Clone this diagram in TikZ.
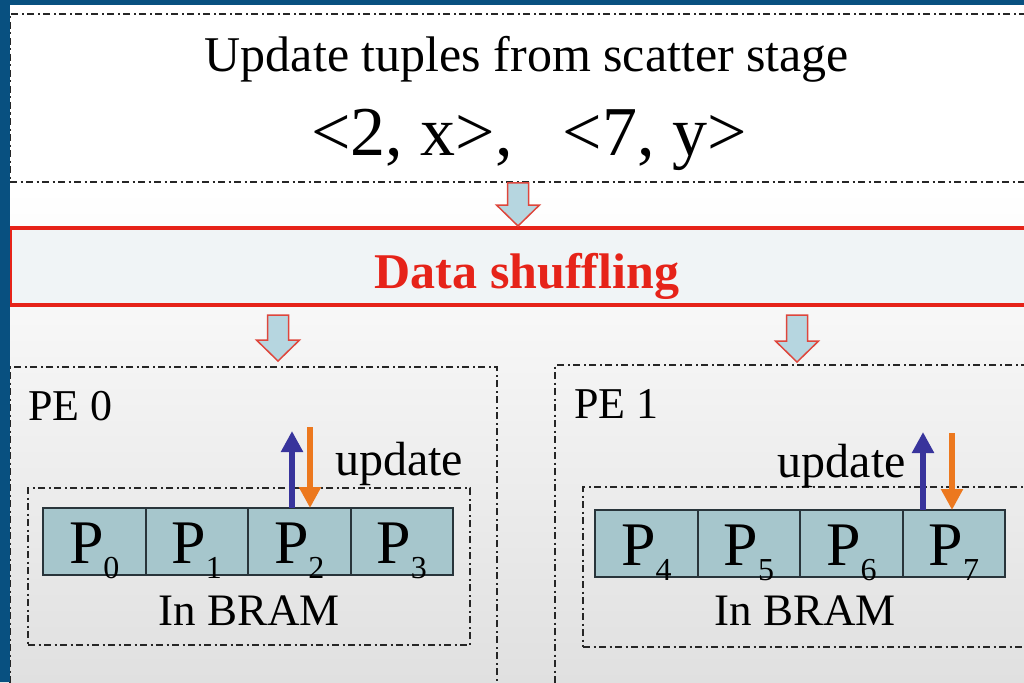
\documentclass[tikz,border=0pt]{standalone}
\usepackage{fontspec}
\setmainfont{Liberation Serif}
\usetikzlibrary{calc}
\usetikzlibrary{arrows.meta}
\usetikzlibrary{positioning}

\definecolor{slideblue}{RGB}{8,80,128}
\definecolor{bggray}{RGB}{224,224,224}
\definecolor{shufred}{RGB}{230,35,25}
\definecolor{bandfill}{RGB}{240,244,246}
\definecolor{cellfill}{RGB}{166,198,204}
\definecolor{celledge}{RGB}{40,52,58}
\definecolor{blockfill}{RGB}{182,214,224}
\definecolor{blockedge}{RGB}{222,70,60}
\definecolor{upblue}{RGB}{56,52,156}
\definecolor{downorange}{RGB}{236,120,30}

% block arrow pointing down, from #1 to #2
\newcommand{\blockdown}[2]{%
	\draw [blockarrow] let \p1=(#1), \p2=(#2) in
		(\x1-10.5pt,\y1) -- (\x1+10.5pt,\y1) -- (\x1+10.5pt,\y2+21pt)
		-- (\x1+21.5pt,\y2+21pt) -- (\x1,\y2) -- (\x1-21.5pt,\y2+21pt)
		-- (\x1-10.5pt,\y2+21pt) -- cycle;}

\newcommand{\pname}[1]{P\raisebox{-15pt}{\fontsize{32}{32}\selectfont #1}}

\begin{document}
\begin{tikzpicture}[x=1pt, y=-1pt,
	stagebox/.style={draw=black!85, line width=1.9pt, dash pattern=on 7pt off 3.5pt on 2pt off 3.5pt, inner sep=0pt},
	cell/.style={draw=celledge, line width=2pt, fill=cellfill, minimum width=102.5pt, minimum height=67pt,
		inner sep=0pt, outer sep=0pt, text height=43pt, text depth=0pt, font=\fontsize{62}{62}\selectfont},
	blockarrow/.style={fill=blockfill, draw=blockedge, line width=1.5pt, line join=miter},
	uparrow/.style={draw=upblue, line width=6.5pt, -{Triangle[width=21pt,length=21pt]}},
	downarrow/.style={draw=downorange, line width=6.5pt, -{Triangle[width=21pt,length=21pt]}}]

	\useasboundingbox (0,0) rectangle (1024,682);
	\clip (0,0) rectangle (1024,682);

	\fill [white] (0,0) rectangle (1024,190);
	\shade [top color=white, bottom color=bggray] (0,190) rectangle (1024,682);

	% scatter stage
	\node (Scatter) [stagebox, minimum width=1024pt, minimum height=168pt] at (522,98) {};
	\node (Title) [anchor=base, font=\fontsize{50}{60}\selectfont] at (527,72) {Update tuples from scatter stage};
	\node (Tuples) [anchor=base, font=\fontsize{70}{80}\selectfont] at (529,155) {<2, x>,\hspace{50pt}<7, y>};

	% shuffling
	\node (Shuffle) [draw=shufred, line width=4pt, fill=bandfill, minimum width=1024pt, minimum height=77pt, inner sep=0pt] at (522,266.5) {};
	\node (ShuffleLabel) [anchor=base, text=shufred, font=\fontsize{50}{60}\selectfont\bfseries] at (527,288) {Data shuffling};

	% PEs
	\node (PE0) [stagebox, minimum width=487pt, minimum height=333pt] at (253.5,533.5) {};
	\node (PE1) [stagebox, minimum width=485pt, minimum height=335pt] at (797.5,532.5) {};
	\node (PE0Label) [anchor=base west, inner sep=0pt, font=\fontsize{44}{50}\selectfont] at (28,420) {PE 0};
	\node (PE1Label) [anchor=base west, inner sep=0pt, font=\fontsize{44}{50}\selectfont] at (574,418) {PE 1};

	\node (Bram0) [stagebox, minimum width=442pt, minimum height=157pt] at (249,566.5) {};
	\node (Bram1) [stagebox, minimum width=457pt, minimum height=160pt] at (811.5,567) {};
	\node (Bram0Label) [anchor=base, font=\fontsize{45}{50}\selectfont] at (249,625) {In BRAM};
	\node (Bram1Label) [anchor=base, font=\fontsize{45}{50}\selectfont] at (805,625) {In BRAM};

	\node (P0) [cell, anchor=west] at (43,541.5) {\pname{0}};
	\node (P1) [cell, right=0pt of P0] {\pname{1}};
	\node (P2) [cell, right=0pt of P1] {\pname{2}};
	\node (P3) [cell, right=0pt of P2] {\pname{3}};

	\node (P4) [cell, anchor=west] at (595,543.5) {\pname{4}};
	\node (P5) [cell, right=0pt of P4] {\pname{5}};
	\node (P6) [cell, right=0pt of P5] {\pname{6}};
	\node (P7) [cell, right=0pt of P6] {\pname{7}};

	% block arrows
	\coordinate (TopX) at (518,0);
	\coordinate (Fork0) at (278,0);
	\coordinate (Fork1) at (797,0);
	\blockdown{Scatter.south -| TopX}{Shuffle.north -| TopX}
	\blockdown{$(Shuffle.south -| Fork0)+(0,8)$}{$(PE0.north -| Fork0)+(0,-5)$}
	\blockdown{$(Shuffle.south -| Fork1)+(0,8)$}{$(PE1.north -| Fork1)+(0,-2)$}

	% update arrows
	\coordinate (Up0) at (292,431);
	\coordinate (Down0) at (310,427);
	\coordinate (Up1) at (923,432);
	\coordinate (Down1) at (952,433);
	\draw [uparrow] (P2.north -| Up0) -- (Up0);
	\draw [downarrow] (Down0) -- (P2.north -| Down0);
	\draw [uparrow] (P7.north -| Up1) -- (Up1);
	\draw [downarrow] (Down1) -- (P7.north -| Down1);

	\node (Update0) [anchor=base west, inner sep=0pt, font=\fontsize{48}{50}\selectfont] at (335,475) {update};
	\node (Update1) [anchor=base east, inner sep=0pt, font=\fontsize{48}{50}\selectfont] at (906,477) {update};

	% slide frame
	\fill [slideblue] (0,0) rectangle (10,682);
	\fill [slideblue] (0,0) rectangle (1024,5);

\end{tikzpicture}
\end{document}
